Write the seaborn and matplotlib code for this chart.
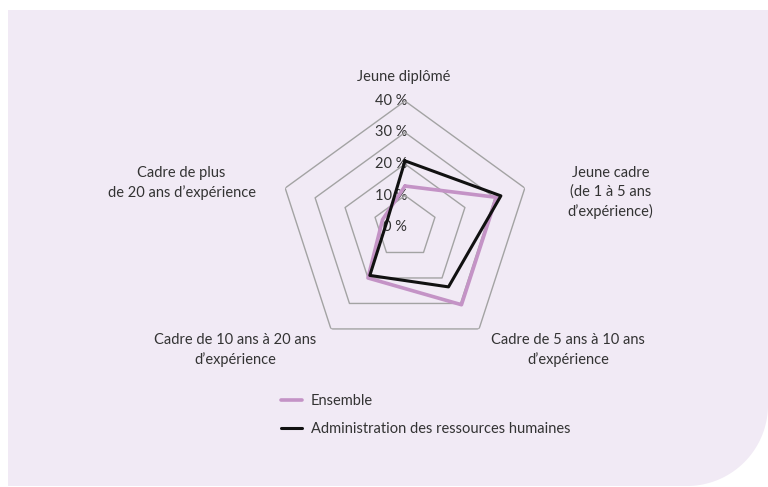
import numpy as np
import pandas as pd
import matplotlib
matplotlib.use("Agg")
import matplotlib.pyplot as plt
import matplotlib.transforms as mtransforms
from matplotlib.patches import Polygon
import seaborn as sns

# ---- data ----
categories = [
    "Jeune diplômé",
    "Jeune cadre\n(de 1 à 5 ans\nd’expérience)",
    "Cadre de 5 ans à 10 ans\nd’expérience",
    "Cadre de 10 ans à 20 ans\nd’expérience",
    "Cadre de plus\nde 20 ans d’expérience",
]
series_names = ["Ensemble", "Administration des ressources humaines"]
ensemble = [13, 30.5, 30.5, 20, 7.5]
admin_rh = [21, 32, 23.5, 19, 6]
grid_levels = [0, 10, 20, 30, 40]
tick_labels = ["0 %", "10 %", "20 %", "30 %", "40 %"]

sns.set_theme(style="white")
plt.rcParams["font.family"] = ["Lato", "DejaVu Sans"]

TXT = "#333333"
BG = "#f1eaf5"
PINK = "#c493c6"
GRID = "#a3a3a3"
FS = 10.5

W, H = 768, 487
fig = plt.figure(figsize=(W / 100, H / 100), dpi=100)
fig.patch.set_facecolor("white")

# background panel with rounded bottom-right corner (in inches)
cx, cy, R = 6.87, (H - 405) / 100, 0.81
arc_t = np.linspace(0, -np.pi / 2, 60)
pts = [(0.08, (H - 10) / 100), (7.68, (H - 10) / 100), (7.68, cy)]
pts += [(cx + R * np.cos(t), cy + R * np.sin(t)) for t in arc_t]
pts += [(0.08, cy - R)]
fig.add_artist(Polygon(pts, closed=True, facecolor=BG, edgecolor="none",
                       transform=fig.dpi_scale_trans, zorder=0))

# polar axes: centre (405,227) px, radius 126 px
cxp, cyp, rp = 405, 227, 126
ax = fig.add_axes([(cxp - rp) / W, (H - cyp - rp) / H, 2 * rp / W, 2 * rp / H],
                  projection="polar")
ax.patch.set_alpha(0)
ax.set_theta_zero_location("N")
ax.set_theta_direction(-1)
ax.set_ylim(0, 40)
ax.set_xticks([])
ax.set_yticks([])
ax.grid(False)
ax.spines["polar"].set_visible(False)

n = len(categories)
angles = np.linspace(0, 2 * np.pi, n, endpoint=False)
closed_angles = np.r_[angles, 2 * np.pi]

for lvl in grid_levels[1:]:
    ax.plot(closed_angles, [lvl] * (n + 1), color=GRID, lw=1.0, zorder=1)

off = mtransforms.offset_copy(ax.transData, fig=fig, x=2, y=0, units="dots")
for lvl, lab in zip(grid_levels, tick_labels):
    ax.text(0, lvl, lab, transform=off, ha="right", va="center",
            fontsize=FS, color=TXT, zorder=0.5)

df = pd.DataFrame({
    "theta": np.r_[closed_angles, closed_angles],
    "r": np.r_[ensemble + ensemble[:1], admin_rh + admin_rh[:1]],
    "serie": [series_names[0]] * (n + 1) + [series_names[1]] * (n + 1),
})
sns.lineplot(data=df[df.serie == series_names[0]], x="theta", y="r", sort=False,
             estimator=None, color=PINK, lw=2.6, ax=ax, label=series_names[0], zorder=3)
sns.lineplot(data=df[df.serie == series_names[1]], x="theta", y="r", sort=False,
             estimator=None, color="#111111", lw=2.2, ax=ax, label=series_names[1], zorder=4)
ax.set_xlabel("")
ax.set_ylabel("")
ax.set_xticks([])
ax.set_yticks([])
ax.set_ylim(0, 40)

handles, labels = ax.get_legend_handles_labels()
if ax.get_legend() is not None:
    ax.get_legend().remove()
fig.legend(handles, labels, loc="upper left",
           bbox_to_anchor=(281 / W, 1 - 394 / H), frameon=False,
           fontsize=FS, handlelength=1.45, handletextpad=0.6,
           labelspacing=0.97, borderpad=0, borderaxespad=0,
           labelcolor=TXT)

# category labels (pixel positions)
label_pos = [(404, 77), (610.5, 192.5), (568.4, 349.7), (235, 349.7), (181.5, 183)]
for lab, (x, y) in zip(categories, label_pos):
    fig.text(x / W, 1 - y / H, lab, ha="center", va="center", multialignment="center",
             fontsize=FS, color=TXT, linespacing=1.4)

fig.savefig("out.png", dpi=100, facecolor="white")
